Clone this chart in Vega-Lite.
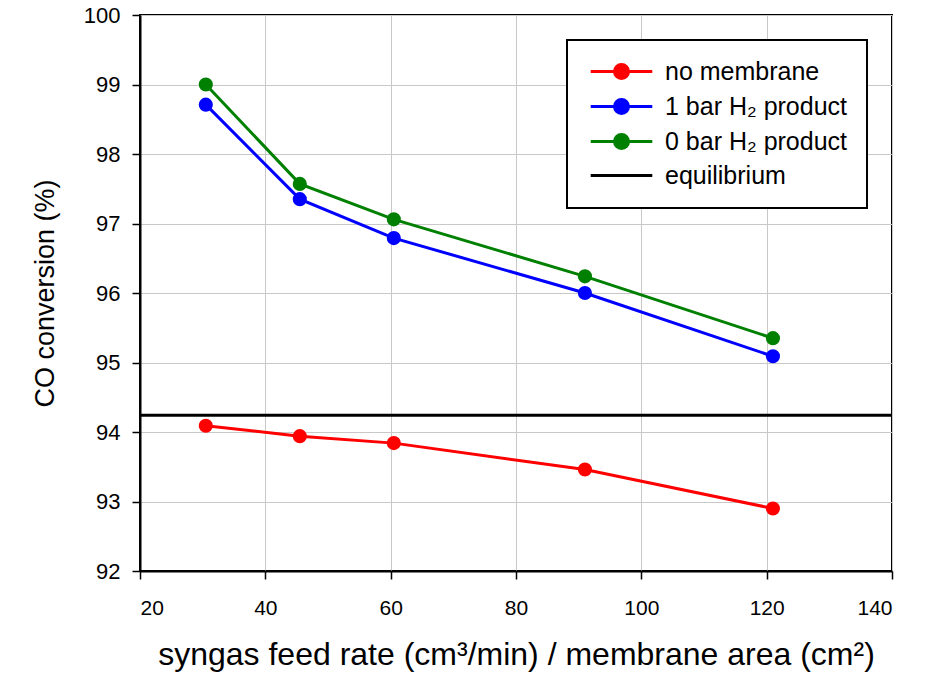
{
  "$schema": "https://vega.github.io/schema/vega-lite/v6.json",
  "width": 752,
  "height": 556,
  "autosize": {"type": "none"},
  "padding": {"left": 140, "top": 15, "right": 38, "bottom": 106},
  "background": "white",
  "config": {
    "view": {"stroke": "black", "strokeWidth": 2},
    "font": "Liberation Sans",
    "axis": {
      "grid": true,
      "gridColor": "#c8c8c8",
      "gridWidth": 1,
      "domainColor": "black",
      "domainWidth": 2,
      "tickColor": "black",
      "tickWidth": 1.5,
      "tickSize": 8,
      "labelFont": "Liberation Sans",
      "labelColor": "black",
      "titleFont": "Liberation Sans",
      "titleFontWeight": "normal",
      "titleColor": "black"
    }
  },
  "datasets": {
    "series": [
      {"x": 30.5, "y": 94.09, "series": "no membrane"},
      {"x": 45.5, "y": 93.94, "series": "no membrane"},
      {"x": 60.5, "y": 93.84, "series": "no membrane"},
      {"x": 91, "y": 93.46, "series": "no membrane"},
      {"x": 121, "y": 92.9, "series": "no membrane"},
      {"x": 30.5, "y": 98.71, "series": "1 bar H₂ product"},
      {"x": 45.5, "y": 97.35, "series": "1 bar H₂ product"},
      {"x": 60.5, "y": 96.79, "series": "1 bar H₂ product"},
      {"x": 91, "y": 96.0, "series": "1 bar H₂ product"},
      {"x": 121, "y": 95.09, "series": "1 bar H₂ product"},
      {"x": 30.5, "y": 99.0, "series": "0 bar H₂ product"},
      {"x": 45.5, "y": 97.57, "series": "0 bar H₂ product"},
      {"x": 60.5, "y": 97.06, "series": "0 bar H₂ product"},
      {"x": 91, "y": 96.24, "series": "0 bar H₂ product"},
      {"x": 121, "y": 95.35, "series": "0 bar H₂ product"}
    ],
    "eq": [{"y": 94.24, "series": "equilibrium"}]
  },
  "encoding": {
    "color": {
      "field": "series",
      "type": "nominal",
      "scale": {
        "domain": ["no membrane", "1 bar H₂ product", "0 bar H₂ product", "equilibrium"],
        "range": ["#ff0000", "#0000ff", "#008000", "#000000"]
      },
      "legend": {
        "title": null,
        "orient": "none",
        "legendX": 427,
        "legendY": 25,
        "strokeColor": "black",
        "fillColor": "white",
        "padding": 19,
        "labelFont": "Liberation Sans",
        "labelFontSize": 25,
        "labelColor": "black",
        "symbolSize": 196,
        "symbolOffset": 23,
        "labelOffset": 31,
        "symbolStrokeWidth": 3,
        "rowPadding": 8,
        "labelLimit": 400,
        "symbolType": "M-4.4,0H4.4M-1,0A1,1 0 1,1 1,0A1,1 0 1,1 -1,0",
        "encode": {
          "legend": {"update": {"strokeWidth": {"value": 2}}},
          "symbols": {
            "update": {
              "shape": {"signal": "datum.value === 'equilibrium' ? 'M-4.4,0H4.4' : 'M-4.4,0H4.4M-1,0A1,1 0 1,1 1,0A1,1 0 1,1 -1,0'"},
              "fill": {"scale": "color", "field": "value"},
              "stroke": {"scale": "color", "field": "value"},
              "strokeWidth": {"value": 3},
              "opacity": {"value": 1},
              "fillOpacity": {"value": 1}
            }
          }
        }
      }
    }
  },
  "layer": [
    {
      "data": {"name": "series"},
      "mark": {"type": "line", "strokeWidth": 3},
      "encoding": {
        "x": {
          "field": "x", "type": "quantitative",
          "scale": {"domain": [20, 140], "nice": false},
          "axis": {"values": [20, 40, 60, 80, 100, 120, 140], "labelFontSize": 21, "labelPadding": 18,
                   "titleFontSize": 32, "titlePadding": 21,
                   "title": "syngas feed rate (cm³/min) / membrane area (cm²)"}
        },
        "y": {
          "field": "y", "type": "quantitative",
          "scale": {"domain": [92, 100], "nice": false, "zero": false},
          "axis": {"values": [92, 93, 94, 95, 96, 97, 98, 99, 100], "format": "d", "labelFontSize": 22,
                   "labelPadding": 12, "titleFontSize": 27, "titlePadding": 24,
                   "title": "CO conversion (%)"}
        }
      }
    },
    {
      "data": {"name": "series"},
      "mark": {"type": "point", "filled": true, "size": 200, "opacity": 1},
      "encoding": {
        "x": {"field": "x", "type": "quantitative"},
        "y": {"field": "y", "type": "quantitative"}
      }
    },
    {
      "data": {"name": "eq"},
      "mark": {"type": "rule", "strokeWidth": 3},
      "encoding": {
        "y": {"field": "y", "type": "quantitative"}
      }
    }
  ]
}
